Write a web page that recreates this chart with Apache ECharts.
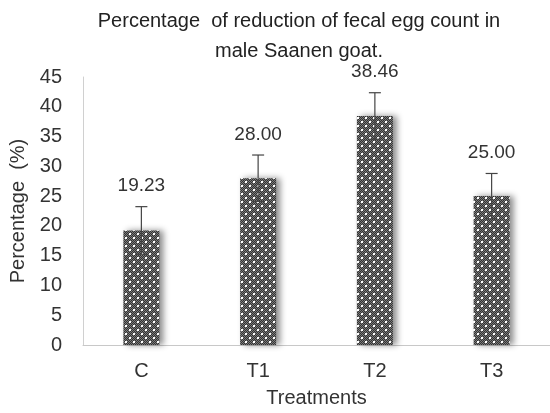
<!DOCTYPE html>
<html><head><meta charset="utf-8">
<script src="https://cdn.jsdelivr.net/npm/echarts@6/dist/echarts.min.js"></script>
<style>html,body{margin:0;padding:0;background:#fff}#c{width:550px;height:413px}</style>
</head><body><div id="c"></div>
<script>
var categories = ['C', 'T1', 'T2', 'T3'];
var values = [19.23, 28.00, 38.46, 25.00];
var errors = [4.0, 3.9, 3.9, 3.8];
var yTicks = [0, 5, 10, 15, 20, 25, 30, 35, 40, 45];

function makePattern() {
  var c = document.createElement('canvas');
  c.width = 8; c.height = 8;
  var g = c.getContext('2d');
  g.fillStyle = '#333333';
  g.fillRect(0, 0, 8, 8);
  g.fillStyle = '#7a7a7a';
  for (var y = 0; y < 8; y++) for (var x = 0; x < 8; x++) if ((x + y) % 2 === 0) g.fillRect(x, y, 1, 1);
  g.fillStyle = '#ffffff';
  g.fillRect(1, 1, 2, 2);
  g.fillRect(5, 5, 2, 2);
  return c;
}

var chart = echarts.init(document.getElementById('c'), null, {renderer: 'canvas'});
var font = 'Arial, "Liberation Sans", sans-serif';
chart.setOption({
  animation: false,
  title: {
    text: 'Percentage  of reduction of fecal egg count in\nmale Saanen goat.',
    left: 294, top: 1, textAlign: 'center',
    textStyle: {fontFamily: font, fontSize: 20, fontWeight: 'normal', color: '#222', lineHeight: 30}
  },
  grid: {left: 83, right: 0, top: 77, bottom: 66},
  xAxis: {
    type: 'category', data: categories,
    name: 'Treatments', nameLocation: 'middle', nameGap: 43,
    nameTextStyle: {fontFamily: font, fontSize: 20, color: '#333'},
    axisLine: {lineStyle: {color: '#c8c8c8'}},
    axisTick: {show: false},
    axisLabel: {fontFamily: font, fontSize: 20, color: '#333', margin: 16}
  },
  yAxis: {
    type: 'value', min: 0, max: 45, interval: 5,
    name: 'Percentage  (%)', nameLocation: 'middle', nameGap: 53, nameRotate: 90,
    nameTextStyle: {fontFamily: font, fontSize: 20, color: '#333'},
    axisLine: {show: true, lineStyle: {color: '#d0d0d0'}},
    axisTick: {show: false},
    splitLine: {show: false},
    axisLabel: {fontFamily: font, fontSize: 20, color: '#333', margin: 21,
      formatter: function (v) { return yTicks.indexOf(v) >= 0 ? String(v) : ''; }}
  },
  series: [{
    type: 'bar', data: values, barWidth: 36,
    itemStyle: {
      color: {image: makePattern(), repeat: 'repeat'},
      shadowColor: 'rgba(0,0,0,0.45)', shadowBlur: 6, shadowOffsetX: 4, shadowOffsetY: 0
    }
  }, {
    type: 'custom',
    data: values.map(function (v, i) { return [i, v, errors[i]]; }),
    renderItem: function (params, api) {
      var x = api.coord([api.value(0), 0])[0];
      var top = api.coord([api.value(0), api.value(1) + api.value(2)])[1];
      var bot = api.coord([api.value(0), api.value(1) - api.value(2)])[1];
      var st = {stroke: '#444', lineWidth: 1.2};
      return {type: 'group', children: [
        {type: 'line', shape: {x1: x, y1: top, x2: x, y2: bot}, style: st},
        {type: 'line', shape: {x1: x - 6, y1: top, x2: x + 6, y2: top}, style: st},
        {type: 'line', shape: {x1: x - 6, y1: bot, x2: x + 6, y2: bot}, style: st},
        {type: 'text', x: x, y: top - 11, style: {
          text: api.value(1).toFixed(2), textAlign: 'center', textVerticalAlign: 'bottom',
          font: '19px Arial, "Liberation Sans", sans-serif', fill: '#333'}}
      ]};
    },
    z: 5
  }]
});
</script></body></html>
